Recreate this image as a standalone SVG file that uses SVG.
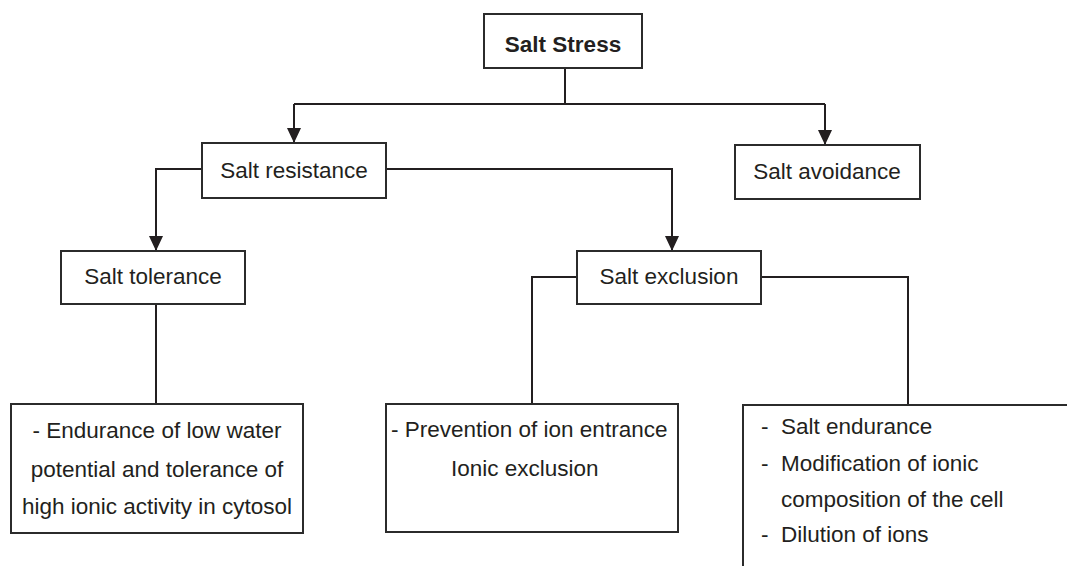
<svg xmlns="http://www.w3.org/2000/svg" width="1067" height="566" viewBox="0 0 1067 566">
<defs>
<style>
.box{fill:#fff;stroke:#2b2b2b;stroke-width:2}
.t{font-family:"Liberation Sans",Arial,Helvetica,sans-serif;font-size:22.5px;fill:#231f20}
.c{text-anchor:middle}
.b{font-weight:bold}
.ln{fill:none;stroke:#231f20;stroke-width:2}
</style>
<marker id="ah" viewBox="0 0 15 14" refX="15" refY="7" markerWidth="15" markerHeight="14" markerUnits="userSpaceOnUse" orient="auto">
<path d="M0,0 L15,7 L0,14 Z" fill="#231f20"/>
</marker>
</defs>
<rect width="1067" height="566" fill="#fff"/>
<g id="connectors">
<path class="ln" d="M565,68 V104"/>
<path class="ln" d="M294,104 H825"/>
<path class="ln" d="M294,104 V143" marker-end="url(#ah)"/>
<path class="ln" d="M825,104 V145" marker-end="url(#ah)"/>
<path class="ln" d="M202,169 H156 V251" marker-end="url(#ah)"/>
<path class="ln" d="M386,169 H672 V251" marker-end="url(#ah)"/>
<path class="ln" d="M156,304 V404"/>
<path class="ln" d="M577,277 H532 V404"/>
<path class="ln" d="M761,277 H908 V405"/>
</g>
<g id="salt-stress">
<rect class="box" x="484" y="14" width="158" height="54"/>
<text class="t c b" x="563" y="52">Salt Stress</text>
</g>
<g id="salt-resistance">
<rect class="box" x="202" y="143" width="184" height="55"/>
<text class="t c" x="294" y="178">Salt resistance</text>
</g>
<g id="salt-avoidance">
<rect class="box" x="735" y="145" width="185" height="54"/>
<text class="t c" x="827" y="179">Salt avoidance</text>
</g>
<g id="salt-tolerance">
<rect class="box" x="61" y="251" width="184" height="53"/>
<text class="t c" x="153" y="284">Salt tolerance</text>
</g>
<g id="salt-exclusion">
<rect class="box" x="577" y="251" width="184" height="53"/>
<text class="t c" x="669" y="284">Salt exclusion</text>
</g>
<g id="tolerance-detail">
<rect class="box" x="11" y="404" width="292" height="129"/>
<text class="t c" x="157" y="438">- Endurance of low water</text>
<text class="t c" x="157" y="477">potential and tolerance of</text>
<text class="t c" x="157" y="514">high ionic activity in cytosol</text>
</g>
<g id="exclusion-detail-1">
<rect class="box" x="386" y="404" width="292" height="128"/>
<text class="t" x="391" y="437">- Prevention of ion entrance</text>
<text class="t" x="451" y="476">Ionic exclusion</text>
</g>
<g id="exclusion-detail-2">
<rect class="box" x="743" y="405" width="400" height="220"/>
<text class="t" x="761" y="434">-</text>
<text class="t" x="781" y="434">Salt endurance</text>
<text class="t" x="761" y="471">-</text>
<text class="t" x="781" y="471">Modification of ionic</text>
<text class="t" x="781" y="507">composition of the cell</text>
<text class="t" x="761" y="542">-</text>
<text class="t" x="781" y="542">Dilution of ions</text>
</g>
</svg>
